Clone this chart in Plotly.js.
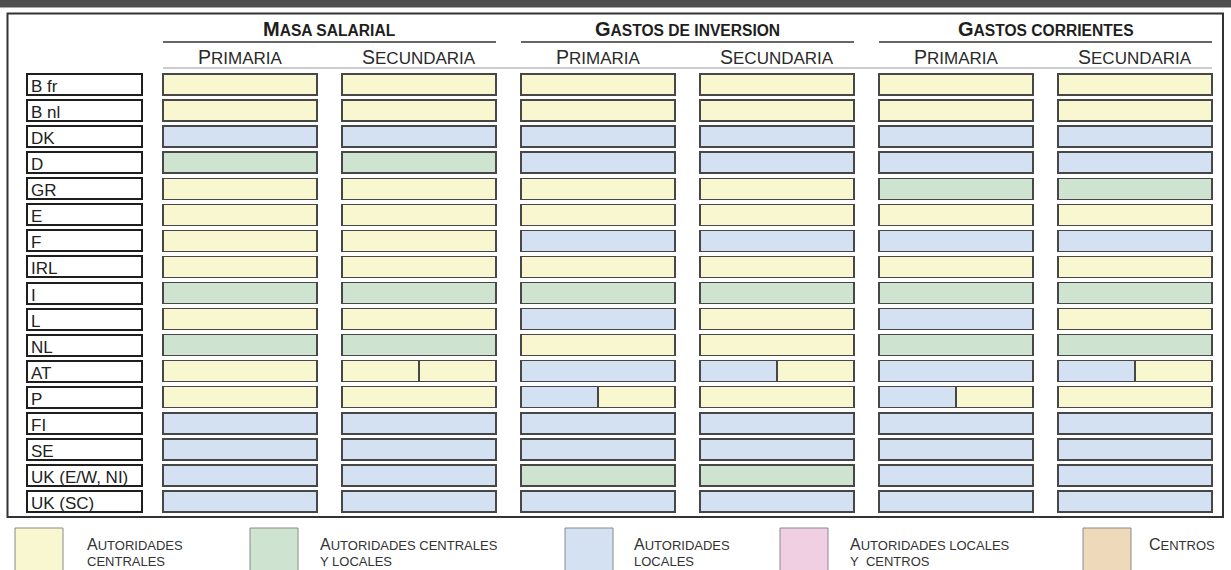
<!DOCTYPE html>
<html>
<head>
<meta charset="utf-8">
<script src="https://cdn.plot.ly/plotly-3.0.1.min.js"></script>
<style>
html,body{margin:0;padding:0;background:#fff;}
#chart{width:1231px;height:570px;}
</style>
</head>
<body>
<div id="chart"></div>
<script>
// ---------- DATA ----------
const rows = ['B fr','B nl','DK','D','GR','E','F','IRL','I','L','NL','AT','P','FI','SE','UK (E/W, NI)','UK (SC)'];

// C = autoridades centrales, CL = centrales y locales, L = locales,
// LC = locales y centros, S = centros ; "a/b" = cell split in two halves
const masaPrimaria        = ['C','C','L','CL','C','C','C','C','CL','C','CL','C','C','L','L','L','L'];
const masaSecundaria      = ['C','C','L','CL','C','C','C','C','CL','C','CL','C/C','C','L','L','L','L'];
const inversionPrimaria   = ['C','C','L','L','C','C','L','C','CL','L','C','L','L/C','L','L','CL','L'];
const inversionSecundaria = ['C','C','L','L','C','C','L','C','CL','C','C','L/C','C','L','L','CL','L'];
const corrientesPrimaria  = ['C','C','L','L','CL','C','L','C','CL','L','CL','L','L/C','L','L','L','L'];
const corrientesSecundaria= ['C','C','L','L','CL','C','L','C','CL','C','CL','L/C','C','L','L','L','L'];

const groups = ['MASA SALARIAL','GASTOS DE INVERSION','GASTOS CORRIENTES'];
const levels = ['PRIMARIA','SECUNDARIA'];

const legendCodes = ['C','CL','L','LC','S'];
const legendLine1 = ['AUTORIDADES','AUTORIDADES CENTRALES','AUTORIDADES','AUTORIDADES LOCALES','CENTROS'];
const legendLine2 = ['CENTRALES','Y LOCALES','LOCALES','Y\u00a0 CENTROS',''];

// ---------- STYLE ----------
const colorOf = {C:'#f9f7cf', CL:'#cfe3d1', L:'#d4e1f3', LC:'#f1cfe3', S:'#eed9ba'};
const W = 1231, H = 570;
const px = x => x / W;
const py = y => 1 - y / H;
const FONT = 'Liberation Sans, Arial, Helvetica, sans-serif';
const PAD = 0.02;

const columns = [masaPrimaria, masaSecundaria, inversionPrimaria, inversionSecundaria, corrientesPrimaria, corrientesSecundaria];
const colStart = [163, 342, 521, 700, 879, 1058];
const colWidth = 154;
const labelStart = 27, labelWidth = 115;
const rowTop = 71.5, rowBottom = 514.5;
const barThick = 0.806;

function domainFor(s, w){ return [px(s - PAD*w), px(s + w + PAD*w)]; }
function sc(str, big){ return '<span style="font-size:' + big + 'px">' + str[0] + '</span>' + str.slice(1); }

const traces = [];
const layout = {
  width: W, height: H,
  margin: {l:0, r:0, t:0, b:0, pad:0},
  paper_bgcolor: '#ffffff', plot_bgcolor: 'rgba(0,0,0,0)',
  barmode: 'stack', showlegend: false,
  font: {family: FONT, color: '#222'},
  yaxis: {domain:[py(rowBottom), py(rowTop)], type:'category', categoryorder:'array', categoryarray: rows,
          range:[rows.length - 0.5, -0.5], autorange:false, visible:false, anchor:'x', fixedrange:true},
  xaxis: {domain: domainFor(labelStart, labelWidth), range:[-PAD, 1+PAD], visible:false, anchor:'y', fixedrange:true},
  shapes: [], annotations: []
};

// label boxes
traces.push({
  type:'bar', orientation:'h', xaxis:'x', yaxis:'y',
  y: rows, x: rows.map(() => 1), width: barThick,
  marker:{color:'#ffffff', line:{color:'#1e1e1e', width:2}},
  hoverinfo:'skip'
});
rows.forEach(r => {
  layout.annotations.push({xref:'x', yref:'y', x:0.02, y:r, text:r, showarrow:false,
    xanchor:'left', yanchor:'middle', yshift:-2, font:{size:17, family:FONT, color:'#222'}});
});

// data columns
columns.forEach((col, i) => {
  const ax = 'x' + (i + 2);
  layout['xaxis' + (i + 2)] = {domain: domainFor(colStart[i], colWidth), range:[-PAD, 1+PAD],
    visible:false, anchor:'y', fixedrange:true};
  const parts = col.map(c => c.split('/'));
  traces.push({
    type:'bar', orientation:'h', xaxis:ax, yaxis:'y', y: rows, width: barThick,
    x: parts.map(p => p.length > 1 ? 0.5 : 1),
    marker:{color: parts.map(p => colorOf[p[0]]), line:{color:'#474747', width:1.5}},
    hoverinfo:'skip'
  });
  traces.push({
    type:'bar', orientation:'h', xaxis:ax, yaxis:'y', y: rows, width: barThick,
    x: parts.map(p => p.length > 1 ? 0.5 : null),
    marker:{color: parts.map(p => colorOf[p[p.length - 1]]), line:{color:'#474747', width:1.5}},
    hoverinfo:'skip'
  });
});

// headers
groups.forEach((g, gi) => {
  const x0 = colStart[gi*2], x1 = colStart[gi*2 + 1] + colWidth;
  layout.annotations.push({xref:'paper', yref:'paper', x:px((x0 + x1)/2), y:py(29), text:'<b>' + sc(g, 20) + '</b>',
    showarrow:false, xanchor:'center', yanchor:'middle', font:{size:15.6, family:FONT, color:'#1e1e1e'}});
  layout.shapes.push({type:'line', xref:'paper', yref:'paper', x0:px(x0), x1:px(x1), y0:py(42), y1:py(42),
    line:{color:'#333', width:1.6}});
  levels.forEach((lv, li) => {
    const c = colStart[gi*2 + li];
    layout.annotations.push({xref:'paper', yref:'paper', x:px(c + colWidth/2), y:py(57), text: sc(lv, 19.5),
      showarrow:false, xanchor:'center', yanchor:'middle', font:{size:17, family:FONT, color:'#2a2a2a'}});
  });
});
layout.shapes.push({type:'line', xref:'paper', yref:'paper', x0:px(163), x1:px(1212), y0:py(68), y1:py(68),
  line:{color:'#9a9a9a', width:1}});

// top dark band and outer frame
layout.shapes.push({type:'rect', xref:'paper', yref:'paper', x0:0, x1:1, y0:py(7.5), y1:1,
  fillcolor:'#4e4e4e', line:{width:0}});
layout.shapes.push({type:'rect', xref:'paper', yref:'paper', x0:px(7.5), x1:px(1223), y0:py(517), y1:py(13.5),
  fillcolor:'rgba(0,0,0,0)', line:{color:'#333', width:2}});

// legend
const legX = [15, 250, 565, 780, 1083];
const legTextX = [85, 318, 632, 848, 1147];
legendCodes.forEach((c, i) => {
  layout.shapes.push({type:'rect', xref:'paper', yref:'paper', x0:px(legX[i]), x1:px(legX[i] + 48),
    y0:py(576), y1:py(528), fillcolor: colorOf[c], line:{color:'#8a8a8a', width:1}});
  layout.annotations.push({xref:'paper', yref:'paper', x:px(legTextX[i]), y:py(544), text: sc(legendLine1[i], 16),
    showarrow:false, xanchor:'left', yanchor:'middle', font:{size:13, family:FONT, color:'#333'}});
  if (legendLine2[i]) {
    layout.annotations.push({xref:'paper', yref:'paper', x:px(legTextX[i]), y:py(561), text: legendLine2[i],
      showarrow:false, xanchor:'left', yanchor:'middle', font:{size:13, family:FONT, color:'#333'}});
  }
});

Plotly.newPlot('chart', traces, layout, {staticPlot:true, displayModeBar:false});
</script>
</body>
</html>
